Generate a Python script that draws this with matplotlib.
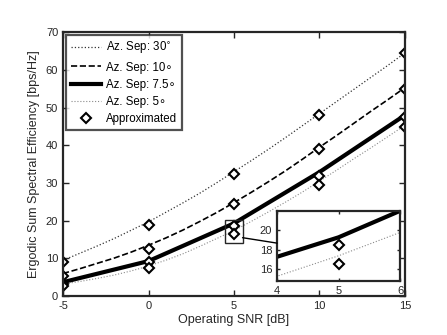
import matplotlib
matplotlib.use('Agg')
from matplotlib import pyplot as plt
from matplotlib.patches import Rectangle, ConnectionPatch

plt.rcParams['font.family'] = ['Liberation Sans', 'DejaVu Sans']
plt.rcParams['axes.unicode_minus'] = False

# SNR grid of the simulated curves (dB)
snr_fine = [-5, -4, -3, -2, -1, 0, 1, 2, 3, 4, 5, 6, 7, 8, 9, 10, 11, 12, 13, 14, 15]
snr_coarse = [-5, 0, 5, 10, 15]

# simulated ergodic sum SE [bps/Hz]
se_30 = [9.5, 11.4, 13.3, 15.3, 17.5, 19.7, 22.2, 24.7, 27.3, 30.1, 33.0,
         35.9, 38.9, 42.0, 45.2, 48.4, 51.6, 54.8, 58.0, 61.2, 64.5]
se_10 = [6.0, 7.3, 8.7, 10.1, 11.7, 13.5, 15.4, 17.5, 19.8, 22.2, 24.8,
         27.5, 30.3, 33.2, 36.3, 39.5, 42.6, 45.8, 49.0, 52.1, 55.3]
se_75 = [3.7, 9.3, 19.3, 32.9, 48.0]
se_5 = [3.2, 3.9, 4.7, 5.6, 6.7, 8.0, 9.5, 11.2, 13.2, 15.3, 17.4,
        19.8, 22.3, 24.9, 27.6, 30.5, 33.4, 36.4, 39.3, 42.3, 45.3]

# approximated values (markers)
appr_30 = [9.0, 18.9, 32.5, 48.0, 64.4]
appr_10 = [5.3, 12.6, 24.4, 38.9, 55.0]
appr_75 = [3.3, 9.0, 18.5, 31.9, 47.6]
appr_5 = [2.8, 7.4, 16.6, 29.5, 44.9]

spine_col = '#262626'


def draw_curves(ax):
    ax.plot(snr_fine, se_30, ':', color='#333333', lw=0.9, label='Az. Sep: 30$^{\\circ}$')
    ax.plot(snr_fine, se_10, '--', color='black', lw=1.2, label='Az. Sep: 10\u2218')
    ax.plot(snr_coarse, se_75, '-', color='black', lw=3, label='Az. Sep: 7.5\u2218')
    ax.plot(snr_fine, se_5, ':', color='#8a8a8a', lw=0.8, label='Az. Sep: 5\u2218')
    first = True
    for ys in [appr_30, appr_10, appr_75, appr_5]:
        ax.plot(snr_coarse, ys, 'D', mfc='white', mec='black', mew=1.5, ms=4.6,
                ls='none', label='Approximated' if first else None)
        first = False


def style_axes(ax):
    for s in ax.spines.values():
        s.set_linewidth(1.6)
        s.set_color(spine_col)
    ax.tick_params(direction='in', top=True, right=True, length=4, width=1,
                   colors=spine_col, labelsize=8, labelcolor='#262626')


fig = plt.figure(figsize=(4.47, 3.35), dpi=100)
ax = fig.add_axes([0.141, 0.116, 0.765, 0.788])
draw_curves(ax)
ax.set_xlim(-5, 15)
ax.set_ylim(0, 70)
ax.set_xticks([-5, 0, 5, 10, 15])
ax.set_yticks(range(0, 71, 10))
style_axes(ax)
ax.set_xlabel('Operating SNR [dB]', fontsize=9, color='#262626', labelpad=2)
ax.set_ylabel('Ergodic Sum Spectral Efficiency [bps/Hz]', fontsize=9, color='#262626', labelpad=4)

leg = ax.legend(loc='upper left', fontsize=8.3, handlelength=2.6, frameon=True,
                fancybox=False, borderaxespad=0.25, labelspacing=0.45,
                handletextpad=0.4, borderpad=0.45)
leg.get_frame().set_edgecolor(spine_col)
leg.get_frame().set_linewidth(1.6)

# zoom box
ax.add_patch(Rectangle((4.5, 14.0), 1.0, 6.2, fill=False, ec=spine_col, lw=1.0, zorder=5))

# inset
axin = fig.add_axes([0.620, 0.161, 0.275, 0.209])
draw_curves(axin)
axin.set_xlim(4, 6)
axin.set_ylim(14.8, 22)
axin.set_xticks([4, 5, 6])
axin.set_yticks([16, 18, 20])
style_axes(axin)
axin.tick_params(length=2.5)
axin.set_facecolor('white')

con = ConnectionPatch(xyA=(5.5, 15.5), coordsA=ax.transData,
                      xyB=(4, 18.7), coordsB=axin.transData,
                      color='black', lw=1.0)
fig.add_artist(con)

fig.savefig('out.png', dpi=100)
